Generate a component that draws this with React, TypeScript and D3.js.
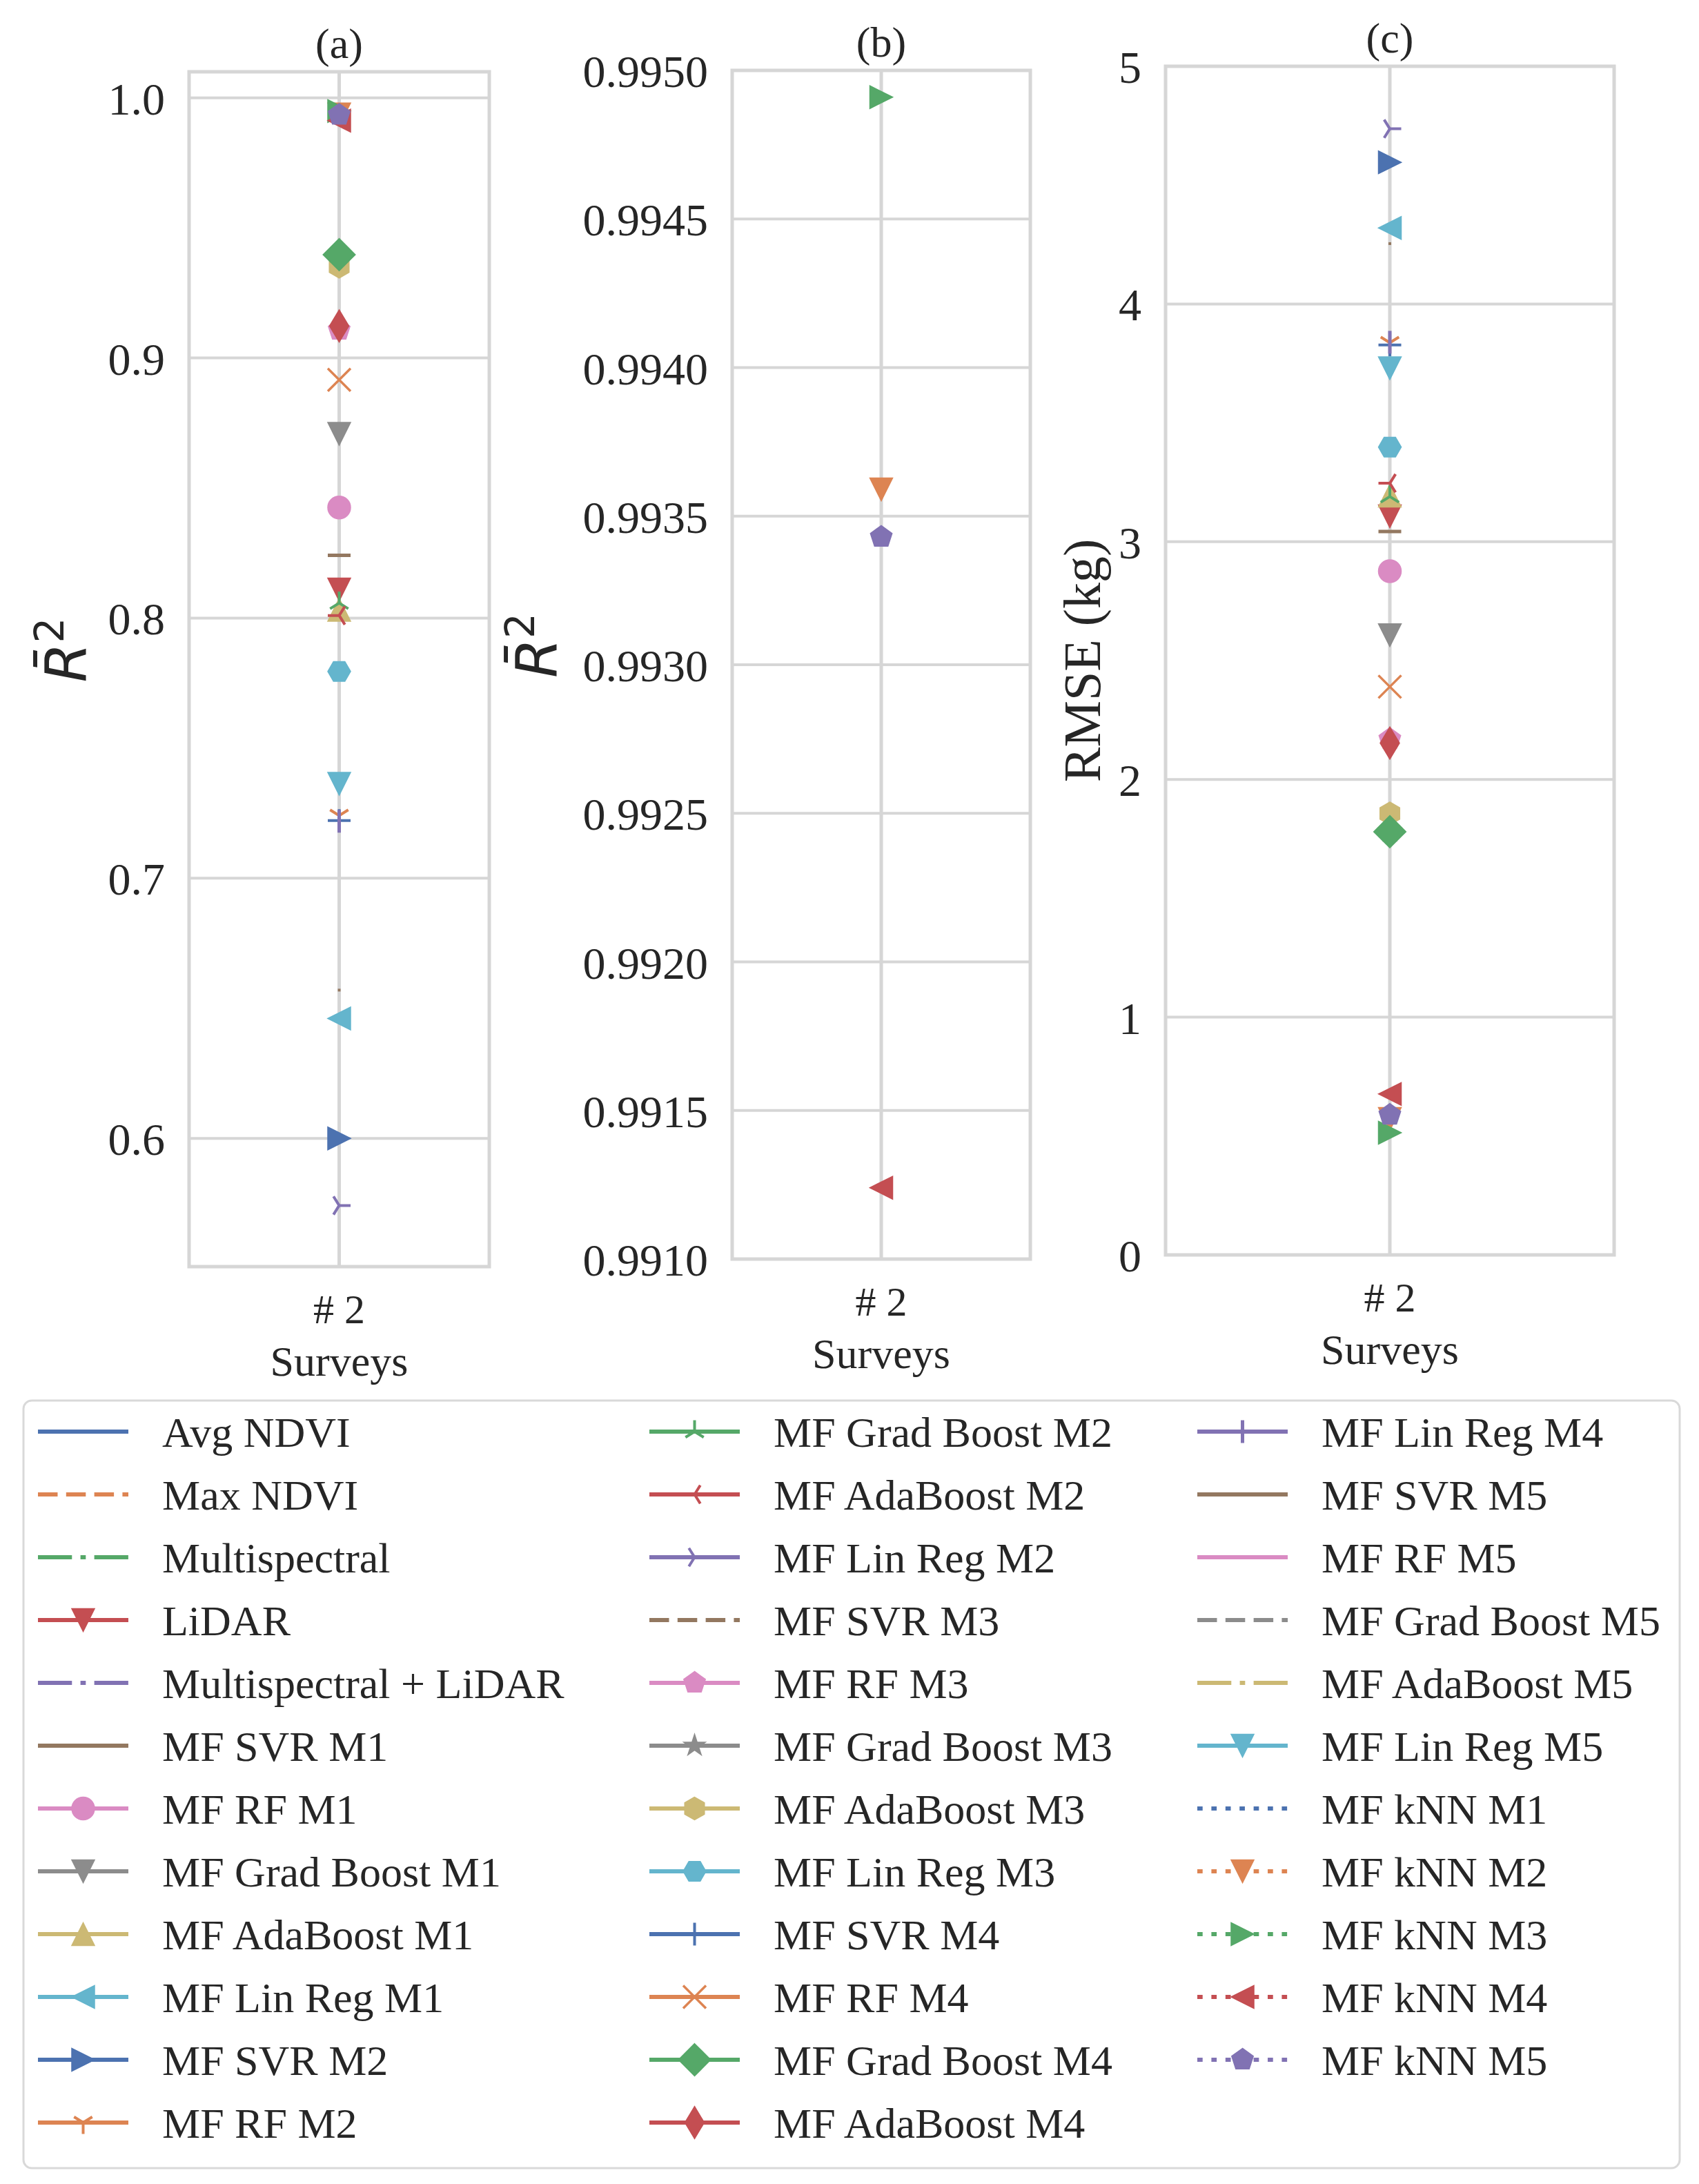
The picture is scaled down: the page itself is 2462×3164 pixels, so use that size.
import React from 'react';
import * as d3 from 'd3';

// ---------- data ----------
const seriesNames = [
  'Avg NDVI', 'Max NDVI', 'Multispectral', 'LiDAR', 'Multispectral + LiDAR',
  'MF SVR M1', 'MF RF M1', 'MF Grad Boost M1', 'MF AdaBoost M1', 'MF Lin Reg M1',
  'MF SVR M2', 'MF RF M2', 'MF Grad Boost M2', 'MF AdaBoost M2', 'MF Lin Reg M2',
  'MF SVR M3', 'MF RF M3', 'MF Grad Boost M3', 'MF AdaBoost M3', 'MF Lin Reg M3',
  'MF SVR M4', 'MF RF M4', 'MF Grad Boost M4', 'MF AdaBoost M4', 'MF Lin Reg M4',
  'MF SVR M5', 'MF RF M5', 'MF Grad Boost M5', 'MF AdaBoost M5', 'MF Lin Reg M5',
  'MF kNN M1', 'MF kNN M2', 'MF kNN M3', 'MF kNN M4', 'MF kNN M5',
];

const palette = ['#4C72B0', '#DD8452', '#55A868', '#C44E52', '#8172B3', '#937860', '#DA8BC3', '#8C8C8C', '#CCB974', '#64B5CD'];

const seriesMarkers = [
  '', '', '', 'v', '',
  ',', 'o', 'v', '^', '<',
  '>', '1', '2', '3', '4',
  '', 'p', '*', 'h', 'H',
  '+', 'x', 'D', 'd', '|',
  '_', '', '', '', 'v',
  '', 'v', '>', '<', 'p',
];

const seriesDashes = [
  '-', '--', '-.', '-', '-.',
  '-', '-', '-', '-', '-',
  '-', '-', '-', '-', '-',
  '--', '-', '-', '-', '-',
  '-', '-', '-', '-', '-',
  '-', '-', '--', '-.', '-',
  ':', ':', ':', ':', ':',
];

const categories = ['# 2'];

// panel (a): adjusted R^2
const r2Values: (number | null)[] = [
  null, null, null, 0.8110, null,
  0.657, 0.8425, 0.8708, 0.8032, 0.6461,
  0.6000, 0.7241, 0.8058, 0.8010, 0.5742,
  null, 0.9108, 0.9395, 0.9351, 0.7795,
  0.7222, 0.8916, 0.9397, 0.9123, 0.7219,
  0.8241, null, null, null, 0.7363,
  null, 0.99359, 0.99491, 0.99124, 0.99343,
];

// panel (b): adjusted R^2, kNN close-up
const r2KnnValues: (number | null)[] = [
  null, null, null, null, null,
  null, null, null, null, null,
  null, null, null, null, null,
  null, null, null, null, null,
  null, null, null, null, null,
  null, null, null, null, null,
  null, 0.99359, 0.99491, 0.99124, 0.99343,
];

// panel (c): RMSE (kg)
const rmseValues: (number | null)[] = [
  null, null, null, 3.107, null,
  4.254, 2.876, 2.607, 3.194, 4.320,
  4.596, 3.837, 3.19, 3.246, 4.737,
  null, 2.17, 1.782, 1.857, 3.398,
  3.828, 2.39, 1.780, 2.153, 3.839,
  3.043, null, null, null, 3.730,
  null, 0.572, 0.514, 0.677, 0.589,
];

const r2Ticks = [0.6, 0.7, 0.8, 0.9, 1.0];
const r2KnnTicks = [0.9910, 0.9915, 0.9920, 0.9925, 0.9930, 0.9935, 0.9940, 0.9945, 0.9950];
const rmseTicks = [0, 1, 2, 3, 4, 5];

const panelTitles = ['(a)', '(b)', '(c)'];
const xAxisLabel = 'Surveys';
const rmseLabel = 'RMSE (kg)';

// ---------- styling ----------
const SERIF = '"Liberation Serif", "Times New Roman", serif';
const SANS = '"DejaVu Sans", sans-serif';
const GRID = '#d6d6d6';
const MS = 33; // marker size px

function markerShape(m: string, cx: number, cy: number, color: string, key: string) {
  const r = MS / 2;
  const poly = (pts: [number, number][]) =>
    'M' + pts.map(p => `${(cx + p[0]).toFixed(2)},${(cy + p[1]).toFixed(2)}`).join('L') + 'Z';
  const filled = (d: string) => <path key={key} d={d} fill={color} stroke={color} strokeWidth={1.5} strokeLinejoin="miter" />;
  const lines = (segs: [number, number, number, number][], w = 4) => (
    <path key={key} d={segs.map(s => `M${cx + s[0]},${cy + s[1]}L${cx + s[2]},${cy + s[3]}`).join('')}
      fill="none" stroke={color} strokeWidth={w} strokeLinecap="butt" />
  );
  const regular = (n: number, startDeg: number, rad: number) => {
    const pts: [number, number][] = [];
    for (let k = 0; k < n; k++) {
      const a = ((startDeg + (360 / n) * k) * Math.PI) / 180;
      pts.push([rad * Math.cos(a), -rad * Math.sin(a)]);
    }
    return pts;
  };
  switch (m) {
    case 'o': return <circle key={key} cx={cx} cy={cy} r={r} fill={color} stroke={color} strokeWidth={1.5} />;
    case 'v': return filled(poly([[0, r], [-r, -r], [r, -r]]));
    case '^': return filled(poly([[0, -r], [-r, r], [r, r]]));
    case '<': return filled(poly([[-r, 0], [r, -r], [r, r]]));
    case '>': return filled(poly([[r, 0], [-r, -r], [-r, r]]));
    case '1': return lines([[0, 0, 0, r], [0, 0, 0.8 * r, -0.5 * r], [0, 0, -0.8 * r, -0.5 * r]]);
    case '2': return lines([[0, 0, 0, -r], [0, 0, 0.8 * r, 0.5 * r], [0, 0, -0.8 * r, 0.5 * r]]);
    case '3': return lines([[0, 0, -r, 0], [0, 0, 0.5 * r, 0.8 * r], [0, 0, 0.5 * r, -0.8 * r]]);
    case '4': return lines([[0, 0, r, 0], [0, 0, -0.5 * r, 0.8 * r], [0, 0, -0.5 * r, -0.8 * r]]);
    case 'p': return filled(poly(regular(5, 90, r)));
    case 'h': return filled(poly(regular(6, 90, r)));
    case 'H': return filled(poly(regular(6, 0, r)));
    case '*': {
      const pts: [number, number][] = [];
      for (let k = 0; k < 10; k++) {
        const a = ((90 + 36 * k) * Math.PI) / 180;
        const rr = k % 2 === 0 ? r : r * 0.381966;
        pts.push([rr * Math.cos(a), -rr * Math.sin(a)]);
      }
      return filled(poly(pts));
    }
    case '+': return lines([[-r, 0, r, 0], [0, -r, 0, r]]);
    case 'x': return lines([[-r, -r, r, r], [-r, r, r, -r]], 3.5);
    case 'D': { const q = MS * 0.7071; return filled(poly([[0, -q], [q, 0], [0, q], [-q, 0]])); }
    case 'd': { const q = MS * 0.7071; return filled(poly([[0, -q], [0.6 * q, 0], [0, q], [-0.6 * q, 0]])); }
    case '|': return lines([[0, -r, 0, r]], 5);
    case '_': return lines([[-r, 0, r, 0]], 5);
    case ',': return <rect key={key} x={cx - 2} y={cy - 2} width={4} height={4} fill={color} />;
    default: return null;
  }
}

function dashArray(d: string): string | undefined {
  const u = 7.7;
  if (d === '--') return `${3.7 * u} ${1.6 * u}`;
  if (d === '-.') return `${6.4 * u} ${1.6 * u} ${1 * u} ${1.6 * u}`;
  if (d === ':') return `${1 * u} ${1.65 * u}`;
  return undefined;
}

type PanelSpec = {
  values: (number | null)[];
  ticks: number[];
  fmt: (v: number) => string;
  domain: [number, number];
  left: number; right: number; top: number; bottom: number;
  title: string;
  ylabel: 'r2' | 'rmse';
  ylabelX: number;
};

function Panel({ p, idx }: { p: PanelSpec; idx: number }) {
  const x = d3.scalePoint<string>().domain(categories).range([p.left, p.right]).padding(0.5);
  const y = d3.scaleLinear().domain(p.domain).range([p.bottom, p.top]);
  const cx = x(categories[0]) as number;
  const cy = (p.top + p.bottom) / 2;
  return (
    <g>
      {/* grid */}
      {p.ticks.map((t, i) => (
        <line key={'g' + i} x1={p.left} x2={p.right} y1={y(t)} y2={y(t)} stroke={GRID} strokeWidth={4} />
      ))}
      {categories.map(c => (
        <line key={'vg' + c} x1={x(c)} x2={x(c)} y1={p.top} y2={p.bottom} stroke={GRID} strokeWidth={5} />
      ))}
      {/* frame */}
      <rect x={p.left} y={p.top} width={p.right - p.left} height={p.bottom - p.top} fill="none" stroke={GRID} strokeWidth={5} />
      {/* markers */}
      {p.values.map((v, i) =>
        v === null ? null : markerShape(seriesMarkers[i], cx, y(v), palette[i % palette.length], `m${idx}-${i}`)
      )}
      {/* y tick labels */}
      {p.ticks.map((t, i) => (
        <text key={'t' + i} x={p.left - 35} y={y(t) + 24} textAnchor="end" fontFamily={SERIF} fontSize={66} fill="#262626">
          {p.fmt(t)}
        </text>
      ))}
      {/* x tick labels */}
      {categories.map(c => (
        <text key={'xt' + c} x={x(c)} y={p.bottom + 82} textAnchor="middle" fontFamily={SERIF} fontSize={60} fill="#262626">{c}</text>
      ))}
      <text x={cx} y={p.bottom + 158} textAnchor="middle" fontFamily={SERIF} fontSize={62} fill="#262626">{xAxisLabel}</text>
      {/* title */}
      <text x={cx} y={p.top - 20} textAnchor="middle" fontFamily={SERIF} fontSize={62} fill="#262626">{p.title}</text>
      {/* y label */}
      {p.ylabel === 'rmse' ? (
        <g transform={`translate(${p.ylabelX},${cy}) rotate(-90)`}>
          <text x={0} y={0} textAnchor="middle" fontFamily={SERIF} fontSize={76} fill="#262626">{rmseLabel}</text>
        </g>
      ) : (
        <g transform={`translate(${p.ylabelX},${cy - 28}) rotate(-90)`}>
          <text x={0} y={0} textAnchor="middle" fontFamily={SANS} fontSize={82} fill="#262626">
            <tspan fontStyle="italic">{'R\u0304'}</tspan>
            <tspan dy={-32} fontSize={58}>2</tspan>
          </text>
        </g>
      )}
    </g>
  );
}

function Legend() {
  const colX = [55, 941, 1735];
  const rowY0 = 2074;
  const rowStep = 91;
  const handleLen = 131;
  const perCol = 12;
  return (
    <g>
      <rect x={34} y={2029} width={2400} height={1112} rx={12} ry={12} fill="#ffffff" stroke="#d9d9d9" strokeWidth={3} />
      {seriesNames.map((name, i) => {
        const col = Math.floor(i / perCol);
        const row = i % perCol;
        const x0 = colX[col];
        const yy = rowY0 + row * rowStep;
        const color = palette[i % palette.length];
        return (
          <g key={'lg' + i}>
            <line x1={x0} x2={x0 + handleLen} y1={yy} y2={yy} stroke={color} strokeWidth={6}
              strokeDasharray={dashArray(seriesDashes[i])} />
            {seriesMarkers[i] && seriesMarkers[i] !== ',' ? markerShape(seriesMarkers[i], x0 + handleLen / 2, yy, color, 'lm' + i) : null}
            <text x={x0 + handleLen + 49} y={yy + 22} fontFamily={SERIF} fontSize={62} fill="#262626">{name}</text>
          </g>
        );
      })}
    </g>
  );
}

export default function App() {
  const panels: PanelSpec[] = [
    { values: r2Values, ticks: r2Ticks, fmt: d3.format('.1f'), domain: [0.5507, 1.0100],
      left: 274, right: 709, top: 104, bottom: 1835, title: panelTitles[0], ylabel: 'r2', ylabelX: 124 },
    { values: r2KnnValues, ticks: r2KnnTicks, fmt: d3.format('.4f'), domain: [0.9910, 0.9950],
      left: 1061, right: 1493, top: 102, bottom: 1824, title: panelTitles[1], ylabel: 'r2', ylabelX: 806 },
    { values: rmseValues, ticks: rmseTicks, fmt: d3.format('d'), domain: [0, 5],
      left: 1689, right: 2339, top: 96, bottom: 1818, title: panelTitles[2], ylabel: 'rmse', ylabelX: 1594 },
  ];
  return (
    <svg width={2462} height={3164} viewBox="0 0 2462 3164"
      style={{ position: 'absolute', left: 0, top: 0, background: '#ffffff' }}>
      <rect x={0} y={0} width={2462} height={3164} fill="#ffffff" />
      {panels.map((p, i) => <Panel key={i} p={p} idx={i} />)}
      <Legend />
    </svg>
  );
}
